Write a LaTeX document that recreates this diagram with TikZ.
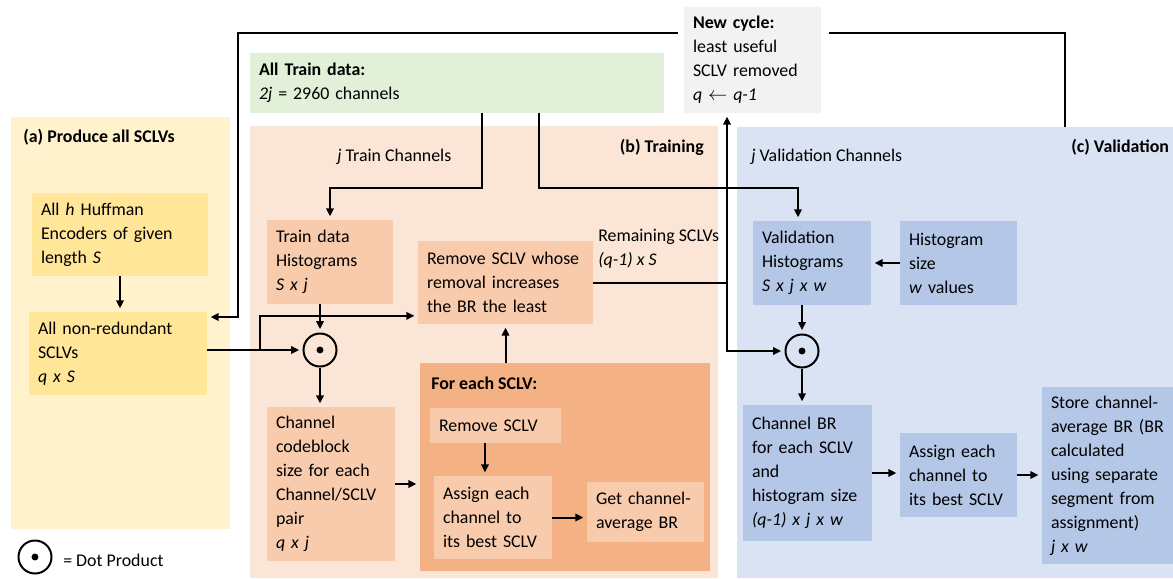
\documentclass[tikz,border=0pt]{standalone}
\usepackage{fontspec}
\setmainfont{Carlito}
\usetikzlibrary{arrows.meta,positioning,calc}
\definecolor{panelyellow}{HTML}{FFF2CC}
\definecolor{boxyellow}{HTML}{FFE699}
\definecolor{panelsalmon}{HTML}{FBE5D6}
\definecolor{boxsalmon}{HTML}{F8CBAD}
\definecolor{boxorange}{HTML}{F4B183}
\definecolor{panelblue}{HTML}{DAE3F3}
\definecolor{boxblue}{HTML}{B4C7E7}
\definecolor{traingreen}{HTML}{E2F0D9}
\definecolor{cyclegray}{HTML}{F2F2F2}

\begin{document}
\begin{tikzpicture}[x=0.75pt,y=-0.75pt,>={Triangle[length=6pt,width=5.5pt]},
  font=\fontsize{13.4pt}{18pt}\selectfont,
  blk/.style={rectangle,inner xsep=6.75pt,inner ysep=0pt,align=left},
  lbl/.style={anchor=west,inner sep=0pt},
  flow/.style={->,line width=1.5pt,shorten >=2.5pt},
  dotp/.style={circle,draw,line width=1.5pt,minimum size=24.75pt,inner sep=0pt,
    path picture={\fill (path picture bounding box.center) circle (2.6pt);}}]
  \useasboundingbox[fill=white] (0,0) rectangle (1173,578);
  \fill[panelyellow] (11,117) rectangle (230,529);
  \fill[panelsalmon] (250,126) rectangle (718,578);
  \fill[panelblue] (737,127) rectangle (1173,578);

  \node[lbl] (lbla) at (23,137) {\textbf{(a) Produce all SCLVs}};
  \node[lbl,anchor=east] (lblb) at (704,147) {\textbf{(b) Training}};
  \node[lbl] (lblc) at (1071,147) {\textbf{(c) Validation}};
  \node[lbl] (lbltc) at (337,157) {\textit{j} Train Channels};
  \node[lbl] (lblvc) at (751,157) {\textit{j} Validation Channels};
  \node[lbl,align=left] (lblrem) at (598,249) {Remaining SCLVs\\\textit{(q-1) x S}};

  \node[blk,fill=traingreen,text width=297pt,minimum height=45pt] (train) at (457,83) {\textbf{All Train data:}\\\textit{2j} = 2960 channels};
  \node[blk,fill=cyclegray,text width=89.25pt,minimum height=79.5pt] (newcyc) at (752.5,60) {\textbf{New cycle:}\\least useful\\SCLV removed\\\textit{q} $\leftarrow$ \textit{q-1}};

  \node[blk,fill=boxyellow,text width=118.5pt,minimum height=62.25pt] (huff) at (120,234.5) {All \textit{h} Huffman\\Encoders of given\\length \textit{S}};
  \node[blk,fill=boxyellow,text width=120pt,minimum height=62.25pt] (sclvs) at (118,353.5) {All non-redundant\\SCLVs\\\textit{q x S}};

  \node[blk,fill=boxsalmon,text width=81pt,minimum height=63pt] (trainhist) at (330,262) {Train data\\Histograms\\\textit{S x j}};
  \node[blk,fill=boxsalmon,text width=117.75pt,minimum height=62.25pt] (remsclv) at (505.5,282.5) {Remove SCLV whose\\removal increases\\the BR the least};
  \node[dotp] (dot1) at (320,350) {};
  \node[blk,fill=boxsalmon,text width=82.5pt,minimum height=115.5pt] (codeblk) at (331,484) {Channel\\codeblock\\size for each\\Channel/SCLV\\pair\\\textit{q x j}};
  \node[fill=boxorange,minimum width=217.5pt,minimum height=156pt,inner sep=0pt] (foreach) at (565,467) {};
  \node[lbl] (lblfor) at (431,383) {\textbf{For each SCLV:}};
  \node[blk,fill=boxsalmon,text width=84.75pt,minimum height=26.25pt] (remove) at (495.5,425.5) {Remove SCLV};
  \node[blk,fill=boxsalmon,text width=75pt,minimum height=62.25pt] (assign) at (493,517.5) {Assign each\\channel to\\its best SCLV};
  \node[blk,fill=boxsalmon,text width=74.25pt,minimum height=45pt] (getbr) at (645.5,512) {Get channel-\\average BR};

  \node[blk,fill=boxblue,text width=75pt,minimum height=63pt] (valhist) at (812,263) {Validation\\Histograms\\\textit{S x j x w}};
  \node[blk,fill=boxblue,text width=74.25pt,minimum height=63pt] (histsize) at (958.5,263) {Histogram\\size\\\textit{w} values};
  \node[dotp] (dot2) at (802,351) {};
  \node[blk,fill=boxblue,text width=83.25pt,minimum height=102pt] (chanbr) at (807.5,473) {Channel BR\\for each SCLV\\and\\histogram size\\\textit{(q-1) x j x w}};
  \node[blk,fill=boxblue,text width=74.25pt,minimum height=63pt] (assignv) at (958.5,475) {Assign each\\channel to\\its best SCLV};
  \node[blk,fill=boxblue,text width=84.75pt,minimum height=132.75pt] (store) at (1107.5,475.5) {Store channel-\\average BR (BR\\calculated\\using separate\\segment from\\assignment)\\\textit{j x w}};

  \node[dotp] (legdot) at (35,557) {};
  \node[lbl] (legtxt) at (63,560) {= Dot Product};

  \coordinate (trsplit) at (482,188);
  \coordinate (vasplit) at (539,188);
  \coordinate (brk) at (260,350);
  \coordinate (jn) at (727,282.5);
  \coordinate (lpa) at (238,33);
  \coordinate (lpb) at (238,317);
  \coordinate (vtop) at (1065,127);

  \draw[flow] (train.south -| trsplit) -- (trsplit) -| (trainhist.north);
  \draw[flow] (train.south -| vasplit) -- (vasplit) -| ([xshift=-10.5pt]valhist.north);
  \draw[flow] (huff.south) -- (huff.south |- sclvs.north);
  \draw[flow] (sclvs.east |- dot1) -- (dot1.west);
  \draw[flow] (brk) |- ([yshift=-25pt]remsclv.west);
  \draw[flow] (trainhist.south -| dot1) -- (dot1.north);
  \draw[flow] (dot1.south) -- (dot1.south |- codeblk.north);
  \draw[flow] (codeblk.east) -- (codeblk.east -| foreach.west);
  \draw[flow] (foreach.north -| remsclv) -- (remsclv.south);
  \draw[flow] ([xshift=-7.9pt]remove.south) -- ([xshift=-7.9pt]remove.south |- assign.north);
  \draw[flow] (assign.east) -- (assign.east -| getbr.west);
  \draw[line width=1.5pt] (remsclv.east) -- (jn);
  \draw[flow] (jn) -- (jn |- newcyc.south);
  \draw[flow] (jn) |- (dot2.west);
  \draw[flow] ([xshift=-4.5pt,yshift=20.25pt]newcyc.west) -- (lpa) -- (lpb) -- (lpb -| sclvs.east);
  \draw[line width=1.5pt] (vtop) |- ([xshift=6pt,yshift=20.25pt]newcyc.east);
  \draw[flow] (histsize.west) -- (valhist.east);
  \draw[flow] (valhist.south -| dot2) -- (dot2.north);
  \draw[flow] (dot2.south) -- (dot2.south |- chanbr.north);
  \draw[flow] (chanbr.east) -- (chanbr.east -| assignv.west);
  \draw[flow] (assignv.east) -- (assignv.east -| store.west);
\end{tikzpicture}
\end{document}
